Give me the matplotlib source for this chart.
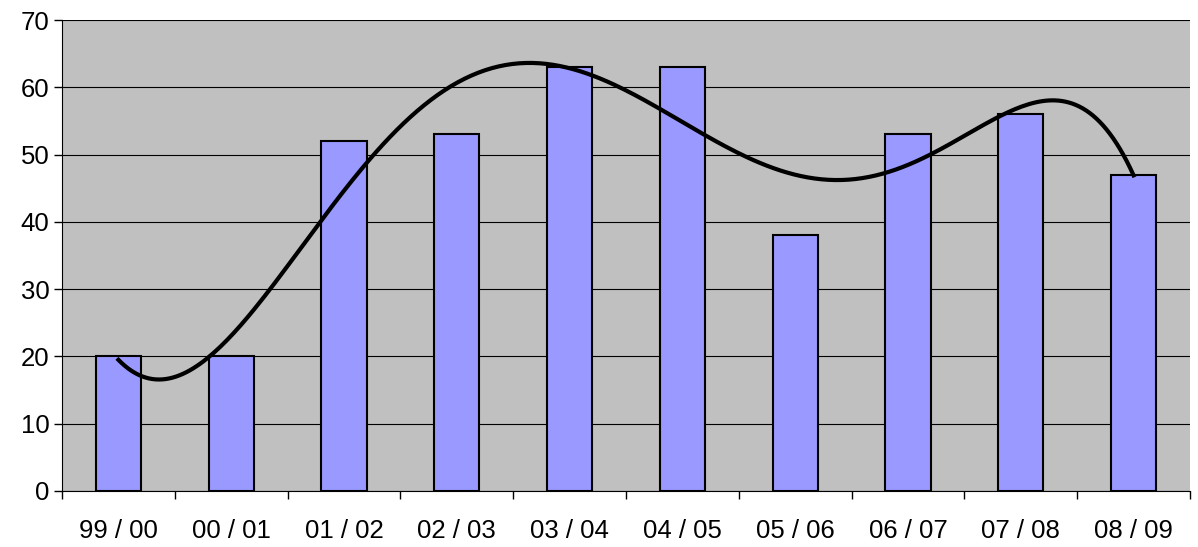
import numpy as np
import matplotlib.pyplot as plt

# ── data ───────────────────────────────────────────────────────────────────────
seasons = ['99 / 00', '00 / 01', '01 / 02', '02 / 03', '03 / 04',
           '04 / 05', '05 / 06', '06 / 07', '07 / 08', '08 / 09']
values = [20, 20, 52, 53, 63, 63, 38, 53, 56, 47]

plt.rcParams['font.family'] = ['Liberation Sans', 'DejaVu Sans']

fig = plt.figure(figsize=(11.98, 5.47), dpi=100)
ax = fig.add_axes([62 / 1198, 1 - 491 / 547, 1128 / 1198, 471 / 547])
ax.set_facecolor('#C0C0C0')

x = np.arange(len(seasons))
ax.bar(x, values, width=0.4, color='#9999FF', edgecolor='black', linewidth=1.5, zorder=3)

# polynomial trendline (order 6, like Excel)
coef = np.polyfit(x, values, 6)
xs = np.linspace(x[0], x[-1], 300)
ax.plot(xs, np.polyval(coef, xs), color='black', linewidth=3, zorder=4)

ax.set_xlim(-0.5, len(seasons) - 0.5)
ax.set_ylim(0, 70)
ax.set_yticks(range(0, 71, 10))
ax.yaxis.grid(True, color='black', linewidth=0.8, zorder=0)
ax.set_axisbelow(True)

ax.set_xticks(x)
ax.set_xticklabels(seasons)
ax.set_xticks(np.arange(-0.5, len(seasons)), minor=True)
ax.tick_params(axis='x', which='major', length=0, pad=20, labelsize=18.5)
ax.tick_params(axis='x', which='minor', length=6, color='black', width=1)
ax.tick_params(axis='y', length=6, width=1, labelsize=18.5, pad=3)

for side in ['top', 'right']:
    ax.spines[side].set_visible(False)
ax.spines['left'].set_color('black')
ax.spines['bottom'].set_color('black')

fig.savefig('out.png', dpi=100)
